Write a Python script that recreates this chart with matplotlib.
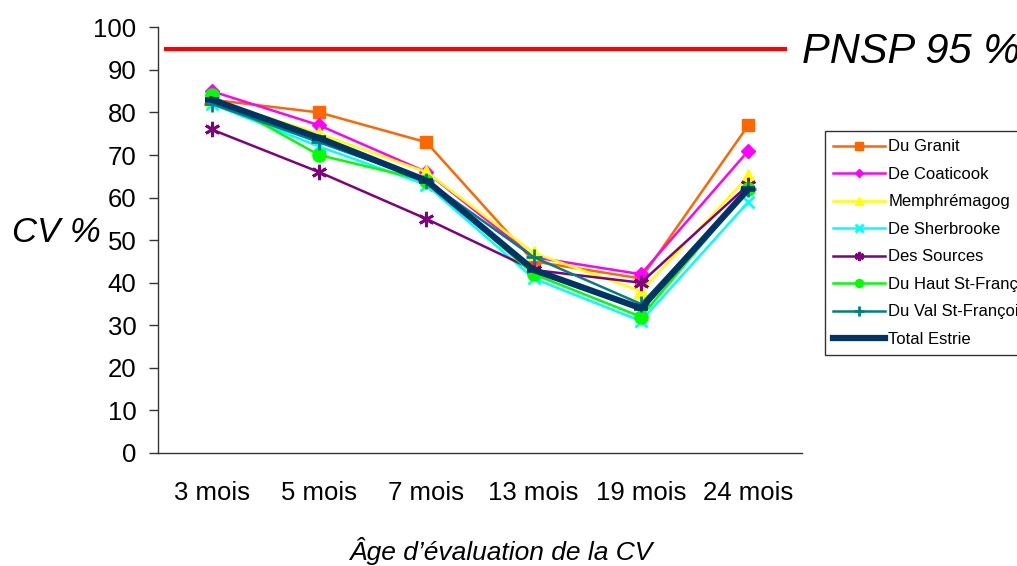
import matplotlib
matplotlib.use("Agg")
import matplotlib.pyplot as plt

plt.rcParams['font.family'] = ['Liberation Sans', 'DejaVu Sans']

ages = ["3 mois", "5 mois", "7 mois", "13 mois", "19 mois", "24 mois"]

du_granit = [83, 80, 73, 45, 41, 77]
de_coaticook = [85, 77, 66, 46, 42, 71]
memphremagog = [83, 75, 66, 47, 38, 65]
de_sherbrooke = [82, 72, 63, 41, 31, 59]
des_sources = [76, 66, 55, 43, 40, 63]
du_haut_st_francois = [84, 70, 64, 42, 32, 62]
du_val_st_francois = [82, 73, 64, 46, 35, 62]
total_estrie = [83, 74, 64, 43, 34, 62]

pnsp = 95

series = [
    ("Du Granit", du_granit, "#FF6600", "s", 8.5, 1.8),
    ("De Coaticook", de_coaticook, "#FF00FF", "D", 7.5, 1.8),
    ("Memphrémagog", memphremagog, "#FFFF00", "^", 9.5, 1.8),
    ("De Sherbrooke", de_sherbrooke, "#00FFFF", "x", 9, 1.8),
    ("Des Sources", des_sources, "#800080", (6, 2, 0), 11, 1.8),
    ("Du Haut St-François", du_haut_st_francois, "#00FF00", "o", 9.5, 1.8),
    ("Du Val St-François", du_val_st_francois, "#008080", "+", 11, 1.8),
    ("Total Estrie", total_estrie, "#003366", "_", 10, 4.5),
]

fig = plt.figure(figsize=(10.17, 5.66), dpi=100)
ax = fig.add_axes([158 / 1017, 1 - 453 / 566, (802 - 158) / 1017, (453 - 27.3) / 566])

x = list(range(len(ages)))

# target line
ax.plot([-0.44, 5.36], [pnsp, pnsp], color="#FF0000", linewidth=3, solid_capstyle="butt")

for name, vals, color, marker, ms, lw in series:
    mew = 2 if marker in ("x", "+", (6, 2, 0)) else 1
    if name == "Total Estrie":
        mew = 4
    ax.plot(x, vals, color=color, linewidth=lw, marker=marker, markersize=ms,
            markeredgewidth=mew, markerfacecolor=color, markeredgecolor=color,
            label=name)

ax.set_xlim(-0.5, 5.5)
ax.set_ylim(0, 100)
ax.set_yticks(range(0, 101, 10))
ax.set_xticks(x)
ax.set_xticklabels(ages)

for s in ["top", "right"]:
    ax.spines[s].set_visible(False)
for s in ["left", "bottom"]:
    ax.spines[s].set_color("#333333")
    ax.spines[s].set_linewidth(1)

ax.tick_params(axis="y", direction="out", length=6.5, width=1, color="#333333",
               labelsize=18.5, pad=9)
ax.tick_params(axis="x", length=0, labelsize=18.5, pad=20)

fig.text(12 / 1017, 1 - 233 / 566, "CV %", fontsize=25, style="italic",
         ha="left", va="center")
fig.text(501 / 1017, 1 - 560 / 566, "Âge d’évaluation de la CV", fontsize=19,
         style="italic", ha="center", va="baseline")
fig.text(802 / 1017, 1 - 63 / 566, "PNSP 95 %", fontsize=30, style="italic",
         ha="left", va="baseline")

handles, labels = ax.get_legend_handles_labels()
leg = fig.legend(handles, labels, loc="upper left",
                 bbox_to_anchor=(825 / 1017, 1 - 131 / 566),
                 bbox_transform=fig.transFigure, borderaxespad=0,
                 fontsize=12, frameon=True, fancybox=False,
                 handlelength=3.1, handletextpad=0.2, labelspacing=0.75,
                 borderpad=0.5, markerscale=0.6)
leg.get_frame().set_edgecolor("#000000")
leg.get_frame().set_linewidth(1)

fig.savefig("out.png", dpi=100)
